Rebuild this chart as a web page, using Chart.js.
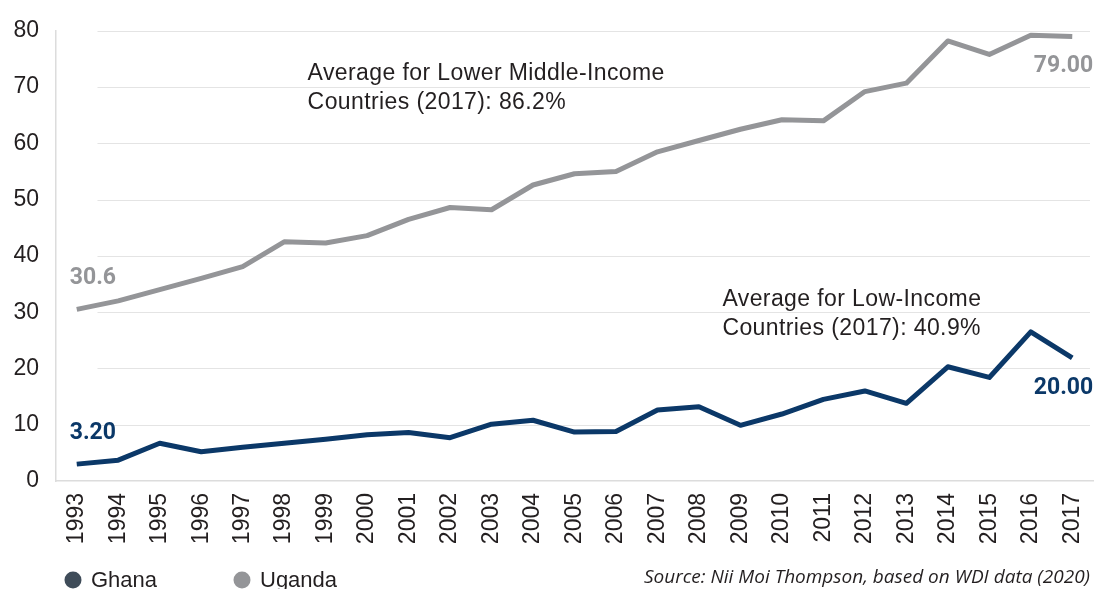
<!DOCTYPE html>
<html>
<head>
<meta charset="utf-8">
<style>
  html, body { margin: 0; padding: 0; background: #fff; }
  canvas { display: block; }
</style>
<script src="https://cdn.jsdelivr.net/npm/chart.js@4/dist/chart.umd.min.js"></script>
</head>
<body>
<canvas id="myChart" width="1094" height="589"></canvas>
<script>
const years = ['1993','1994','1995','1996','1997','1998','1999','2000','2001','2002','2003','2004',
  '2005','2006','2007','2008','2009','2010','2011','2012','2013','2014','2015','2016','2017'];
const ghana = [3.0, 3.7, 6.7, 5.2, 6.0, 6.7, 7.4, 8.2, 8.6, 7.7, 10.1, 10.8,
  8.7, 8.8, 12.6, 13.2, 9.9, 11.9, 14.5, 16.0, 13.8, 20.3, 18.4, 26.5, 21.9];
const uganda = [30.5, 32.0, 34.0, 36.0, 38.1, 42.5, 42.3, 43.6, 46.5, 48.6, 48.2, 52.6,
  54.6, 55.0, 58.5, 60.5, 62.5, 64.2, 64.0, 69.2, 70.7, 78.2, 75.8, 79.2, 79.0];
const seriesNames = ['Ghana', 'Uganda'];
const firstLabels = ['3.20', '30.6'];
const lastLabels = ['20.00', '79.00'];
const notes = [
  { year: '1999', value: 72.3, lines: ['Average for Lower Middle-Income', 'Countries (2017): 86.2%'] },
  { year: '2009', value: 32.3, lines: ['Average for Low-Income', 'Countries (2017): 40.9%'] }
];
const sourceText = 'Source: Nii Moi Thompson, based on WDI data (2020)';

const NAVY = '#0b3868';
const GREY = '#949598';
const TXT = '#231f20';
const LEGEND_COLORS = ['#3f4c59', GREY];

const extras = {
  id: 'extras',
  beforeDatasetsDraw(chart) {
    const { ctx, chartArea, scales: { x, y } } = chart;
    const start = (x.getPixelForValue(0) + x.getPixelForValue(1)) / 2;
    ctx.save();
    ctx.strokeStyle = '#e4e4e4';
    ctx.lineWidth = 1.2;
    y.ticks.forEach(t => {
      if (t.value === 0) return;
      const py = Math.round(y.getPixelForValue(t.value)) + 0.5;
      ctx.beginPath();
      ctx.moveTo(start, py);
      ctx.lineTo(chartArea.right - 3, py);
      ctx.stroke();
    });
    ctx.restore();
  },
  afterDraw(chart) {
    const { ctx, scales: { x, y } } = chart;
    ctx.save();

    // end-point value labels
    ctx.font = 'bold 23px Roboto';
    ctx.textBaseline = 'middle';
    chart.data.datasets.forEach((ds, i) => {
      const last = ds.data.length - 1;
      ctx.fillStyle = ds.borderColor;
      ctx.textAlign = 'left';
      ctx.fillText(firstLabels[i], x.getPixelForValue(0) - 7, y.getPixelForValue(ds.data[0]) - 31);
      ctx.textAlign = 'right';
      ctx.fillText(lastLabels[i], x.getPixelForValue(last) + 21, y.getPixelForValue(ds.data[last]) + 30);
    });

    // notes
    ctx.font = '23px "Liberation Sans"';
    ctx.letterSpacing = '0.4px';
    ctx.fillStyle = TXT;
    ctx.textAlign = 'left';
    notes.forEach(n => {
      const px = x.getPixelForValue(years.indexOf(n.year)) - 18;
      const py = y.getPixelForValue(n.value);
      n.lines.forEach((l, k) => ctx.fillText(l, px, py + k * 29));
    });
    ctx.letterSpacing = '0px';

    // legend
    const ly = 580;
    ctx.font = '22px "Liberation Sans"';
    seriesNames.forEach((name, i) => {
      const cx = 73 + i * 169;
      ctx.fillStyle = LEGEND_COLORS[i];
      ctx.beginPath();
      ctx.arc(cx, ly, 8.5, 0, Math.PI * 2);
      ctx.fill();
      ctx.fillStyle = TXT;
      ctx.textAlign = 'left';
      ctx.fillText(name, cx + 18, ly + 1);
    });

    // source
    ctx.font = 'italic 19px "Open Sans"';
    ctx.textAlign = 'right';
    ctx.fillStyle = TXT;
    ctx.fillText(sourceText, 1090, 578);
    ctx.restore();
  }
};

const myChart = document.getElementById('myChart').getContext('2d');

const chart = new Chart(myChart, {
  type: 'line',
  data: {
    labels: years,
    datasets: [
      { label: seriesNames[0], data: ghana, borderColor: NAVY },
      { label: seriesNames[1], data: uganda, borderColor: GREY }
    ]
  },
  options: {
    responsive: false,
    animation: false,
    layout: { padding: { left: 0, right: 1, top: 30, bottom: 33 } },
    elements: {
      point: { radius: 0 },
      line: { borderWidth: 5, tension: 0, borderJoinStyle: 'round', fill: false }
    },
    plugins: { legend: { display: false }, tooltip: { enabled: false } },
    scales: {
      x: {
        offset: true,
        grid: { display: false, drawTicks: false },
        border: { display: true, color: '#dcdcdc', width: 1.5 },
        ticks: {
          minRotation: 90, maxRotation: 90, padding: 12,
          color: TXT, font: { size: 23, family: '"Liberation Sans"' }
        },
        afterFit(scale) {
          scale.height = 75;
          scale.paddingLeft = 0;
          scale.paddingRight = 0;
        }
      },
      y: {
        min: 0, max: 80,
        grid: { display: false, drawTicks: false },
        border: { display: true, color: '#dcdcdc', width: 1.5 },
        ticks: {
          stepSize: 10, padding: 17,
          color: TXT, font: { size: 23, family: '"Liberation Sans"' }
        },
        afterFit(scale) { scale.width = 56; }
      }
    }
  },
  plugins: [extras]
});
</script>
</body>
</html>
